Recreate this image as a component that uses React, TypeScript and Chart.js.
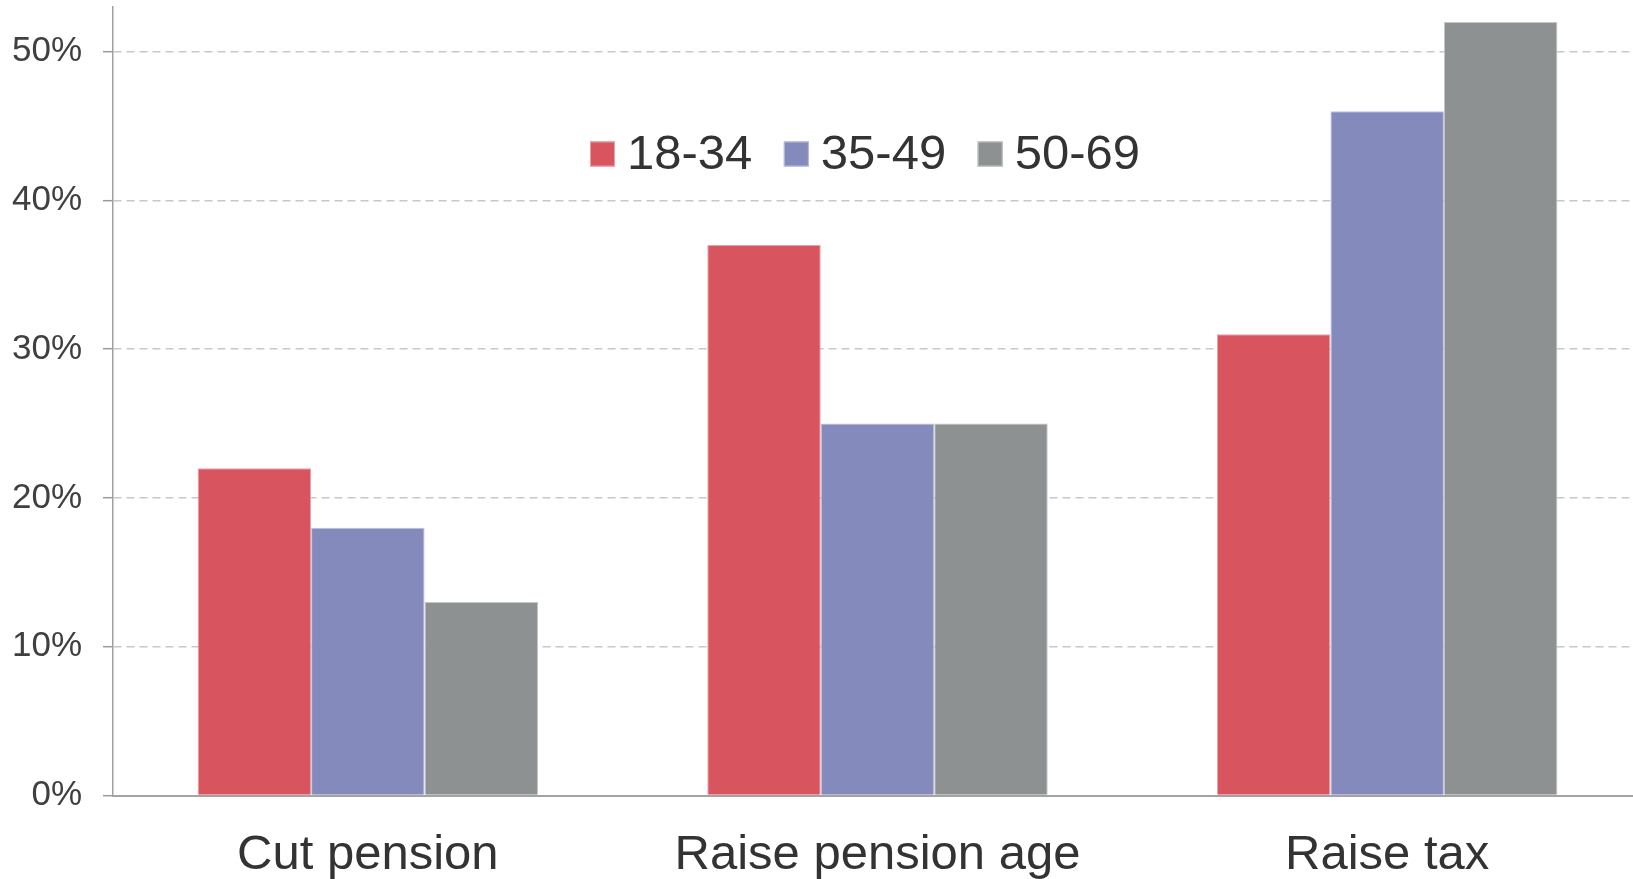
import React, { useEffect, useRef } from "react";
import { Chart, registerables } from "chart.js";

Chart.register(...registerables);

const categories = ["Cut pension", "Raise pension age", "Raise tax"];
const seriesNames = ["18-34", "35-49", "50-69"];
const values1834 = [22, 37, 31];
const values3549 = [18, 25, 46];
const values5069 = [13, 25, 52];
const seriesColors = ["#D8555F", "#848ABC", "#8D9191"];
const seriesBorders = ["#E9A3A8", "#BDC0DD", "#C3C6C6"];
const yTickValues = [0, 10, 20, 30, 40, 50];

const FONT = '"Liberation Sans", Arial, Helvetica, sans-serif';

const legendPlugin = {
  id: "innerLegend",
  afterDraw(chart: any) {
    const ctx = chart.ctx;
    ctx.save();
    ctx.font = `49px ${FONT}`;
    ctx.textBaseline = "alphabetic";
    ctx.textAlign = "left";
    let x = 590;
    const boxTop = 141.5;
    const baseline = 168.5;
    chart.data.datasets.forEach((ds: any) => {
      ctx.fillStyle = ds.backgroundColor;
      ctx.fillRect(x, boxTop, 25, 25);
      ctx.strokeStyle = ds.borderColor;
      ctx.lineWidth = 1;
      ctx.strokeRect(x + 0.5, boxTop + 0.5, 24, 24);
      x += 25 + 12;
      ctx.fillStyle = "#333333";
      ctx.fillText(ds.label, x, baseline);
      x += ctx.measureText(ds.label).width + 31.5;
    });
    ctx.restore();
  },
};

export default function App() {
  const canvasRef = useRef<HTMLCanvasElement | null>(null);

  useEffect(() => {
    const canvas = canvasRef.current;
    if (!canvas) return;
    const seriesValues = [values1834, values3549, values5069];
    const chart = new Chart(canvas, {
      type: "bar",
      data: {
        labels: categories,
        datasets: seriesNames.map((name, i) => ({
          label: name,
          data: seriesValues[i],
          backgroundColor: seriesColors[i],
          borderColor: seriesBorders[i],
          borderWidth: 1,
          barPercentage: 1,
          categoryPercentage: 0.668,
        })),
      },
      options: {
        responsive: false,
        animation: false,
        devicePixelRatio: 1,
        layout: { padding: { top: 7, left: 0, right: 0, bottom: 0 } },
        plugins: {
          legend: { display: false },
          tooltip: { enabled: false },
          title: { display: false },
        },
        scales: {
          x: {
            grid: { display: false, drawTicks: false },
            border: { display: true, color: "#A3A3A3", width: 2 },
            ticks: {
              color: "#333333",
              font: { family: FONT, size: 49 },
              padding: 31,
              maxRotation: 0,
              autoSkip: false,
            },
            afterFit: (scale: any) => {
              scale.height = 83.5;
              scale.paddingLeft = 0;
              scale.paddingRight = 0;
            },
          },
          y: {
            min: 0,
            max: 53,
            afterBuildTicks: (scale: any) => {
              scale.ticks = yTickValues.map((v) => ({ value: v }));
            },
            ticks: {
              color: "#404040",
              font: { family: FONT, size: 35 },
              padding: 21,
              callback: (v: any) => `${v}%`,
            },
            grid: {
              color: (c: any) => (c.tick && c.tick.value === 0 ? "rgba(0,0,0,0)" : "#C8C8C8"),
              lineWidth: 1.4,
              drawTicks: true,
              tickLength: 10,
              tickColor: "#9A9A9A",
              tickWidth: 1.5,
              tickBorderDash: [],
            },
            border: { display: true, color: "#A0A0A0", width: 1.5, dash: [8, 5] },
            afterFit: (scale: any) => {
              scale.width = 113;
              scale.paddingTop = 0;
              scale.paddingBottom = 0;
            },
          },
        },
      },
      plugins: [legendPlugin],
    });
    return () => chart.destroy();
  }, []);

  return (
    <div
      style={{
        position: "fixed",
        left: 0,
        top: 0,
        width: 1633,
        height: 879,
        overflow: "hidden",
        background: "#ffffff",
      }}
    >
      <canvas ref={canvasRef} width={1642} height={879} style={{ display: "block", width: 1642, height: 879 }} />
    </div>
  );
}
